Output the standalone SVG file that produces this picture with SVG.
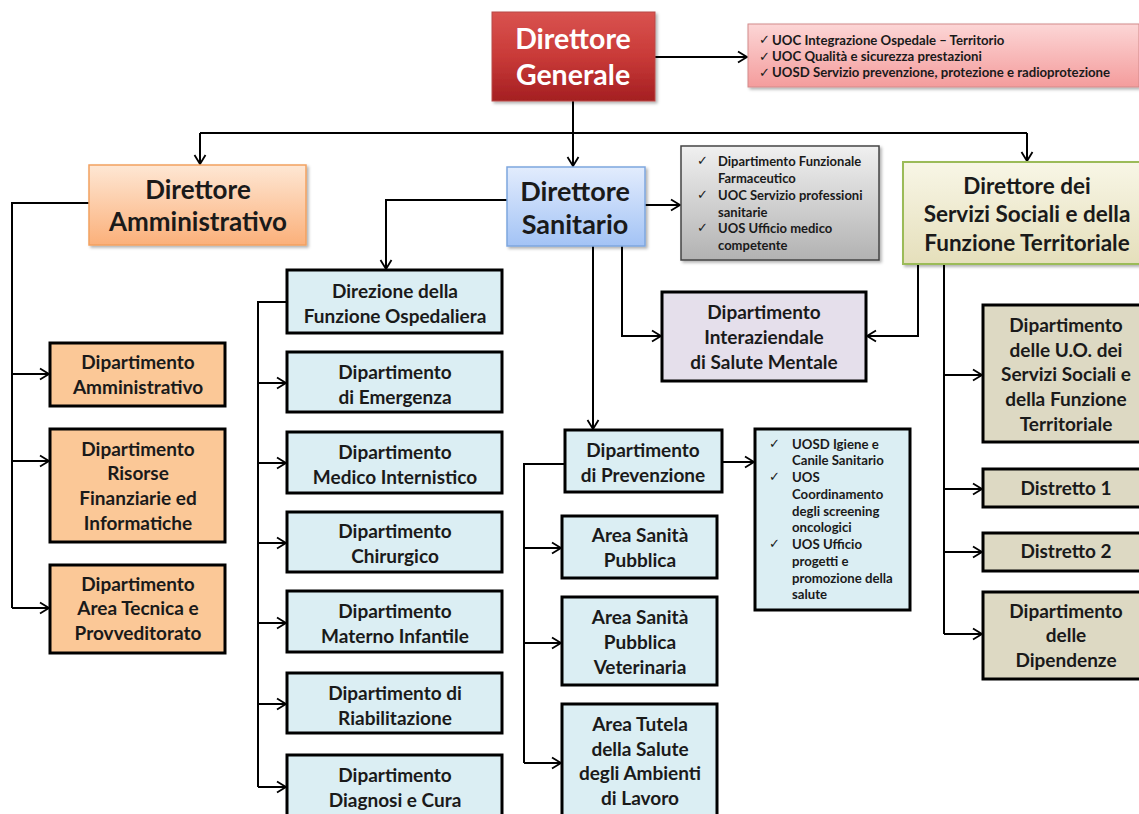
<svg xmlns="http://www.w3.org/2000/svg" width="1139" height="814" viewBox="0 0 1139 814">
<defs>
<linearGradient id="gRed" x1="0" y1="0" x2="0" y2="1"><stop offset="0" stop-color="#d9534f"/><stop offset="0.5" stop-color="#c93a38"/><stop offset="1" stop-color="#a41f22"/></linearGradient>
<linearGradient id="gPink" x1="0" y1="0" x2="0" y2="1"><stop offset="0" stop-color="#fcd6d6"/><stop offset="1" stop-color="#f49c9c"/></linearGradient>
<linearGradient id="gOrange" x1="0" y1="0" x2="0" y2="1"><stop offset="0" stop-color="#fee7d4"/><stop offset="1" stop-color="#fbb07a"/></linearGradient>
<linearGradient id="gBlue" x1="0" y1="0" x2="0" y2="1"><stop offset="0" stop-color="#e2ecfd"/><stop offset="1" stop-color="#a3c3f5"/></linearGradient>
<linearGradient id="gGray" x1="0" y1="0" x2="0" y2="1"><stop offset="0" stop-color="#f0f0f0"/><stop offset="1" stop-color="#b2b2b2"/></linearGradient>
<linearGradient id="gCream" x1="0" y1="0" x2="0" y2="1"><stop offset="0" stop-color="#f8f6e6"/><stop offset="1" stop-color="#e5dfbb"/></linearGradient>
<filter id="sh" x="-10%" y="-10%" width="130%" height="130%"><feDropShadow dx="2" dy="2" stdDeviation="1.5" flood-color="#000" flood-opacity="0.3"/></filter>
<marker id="ar" markerUnits="userSpaceOnUse" markerWidth="14" markerHeight="14" refX="11" refY="7" orient="auto"><path d="M2,1.5 L11,7 L2,12.5" fill="none" stroke="#000" stroke-width="1.8"/></marker>
</defs>
<style>
.ln{fill:none;stroke:#000;stroke-width:2}
.la{fill:none;stroke:#000;stroke-width:2;marker-end:url(#ar)}
.bx{stroke:#000;stroke-width:3}
.lb{fill:#dbeef3}
.or{fill:#fbc897}
.lav{fill:#e5dfeb}
.tan{fill:#ddd9c3}
text{font-family:Lato,"Open Sans","Liberation Sans",sans-serif;font-weight:bold;fill:#1a1a1a;text-anchor:middle}
.t17{font-size:19px}
.t12{font-size:13.2px;text-anchor:start}
.t11{font-size:13px;text-anchor:start}
.ck{font-family:"DejaVu Sans",sans-serif;font-weight:normal;font-size:13px;text-anchor:start}
</style>

<g id="connectors">
<path class="la" d="M655,57 H747"/>
<path class="ln" d="M573,101 V133 M200,133 H1027"/>
<path class="la" d="M200,133 V164"/>
<path class="la" d="M573,133 V166"/>
<path class="la" d="M1027,133 V161"/>
<path class="ln" d="M89,203 H12 V608"/>
<path class="la" d="M12,374 H49"/>
<path class="la" d="M12,461 H49"/>
<path class="la" d="M12,608 H49"/>
<path class="la" d="M507,200 H386 V269"/>
<path class="la" d="M645,205 H680"/>
<path class="la" d="M593,246 V429"/>
<path class="la" d="M622,246 V336 H661"/>
<path class="la" d="M918,264 V336 H867"/>
<path class="ln" d="M944,264 V634"/>
<path class="la" d="M944,375 H982"/>
<path class="la" d="M944,489 H982"/>
<path class="la" d="M944,552 H982"/>
<path class="la" d="M944,634 H982"/>
<path class="ln" d="M287,302 H258 V787"/>
<path class="la" d="M258,383 H286"/>
<path class="la" d="M258,463 H286"/>
<path class="la" d="M258,543 H286"/>
<path class="la" d="M258,623 H286"/>
<path class="la" d="M258,704 H286"/>
<path class="la" d="M258,787 H286"/>
<path class="ln" d="M565,464 H524 V763"/>
<path class="la" d="M524,548 H561"/>
<path class="la" d="M524,643 H561"/>
<path class="la" d="M524,763 H561"/>
<path class="la" d="M722,462 H754"/>
</g>

<g id="direttore-generale">
<rect x="492" y="12" width="163" height="89" fill="url(#gRed)" stroke="#b84a48" stroke-width="1" filter="url(#sh)"/>
<text x="573" y="49" style="font-size:28.5px;fill:#fff">Direttore</text>
<text x="573" y="85" style="font-size:28.5px;fill:#fff">Generale</text>
</g>

<g id="staff-generale">
<rect x="748" y="24" width="391" height="63" fill="url(#gPink)" stroke="#d28a8a" stroke-width="1" filter="url(#sh)"/>
<text class="ck" x="759" y="44">✓</text><text class="t12" x="772" y="45">UOC Integrazione Ospedale – Territorio</text>
<text class="ck" x="759" y="61">✓</text><text class="t12" x="772" y="61">UOC Qualità e sicurezza prestazioni</text>
<text class="ck" x="759" y="77">✓</text><text class="t12" x="772" y="77">UOSD Servizio prevenzione, protezione e radioprotezione</text>
</g>

<g id="direttore-amministrativo">
<rect x="89" y="165" width="217" height="80" fill="url(#gOrange)" stroke="#f2a160" stroke-width="1.5" filter="url(#sh)"/>
<text x="198" y="199" style="font-size:26px">Direttore</text>
<text x="198" y="231" style="font-size:26px">Amministrativo</text>
</g>

<g id="dip-amministrativo">
<rect class="bx or" x="50" y="343" width="175" height="63"/>
<text class="t17" x="138" y="369">Dipartimento</text>
<text class="t17" x="138" y="394">Amministrativo</text>
</g>
<g id="dip-risorse">
<rect class="bx or" x="50" y="429" width="175" height="113"/>
<text class="t17" x="138" y="456">Dipartimento</text>
<text class="t17" x="138" y="480">Risorse</text>
<text class="t17" x="138" y="505">Finanziarie ed</text>
<text class="t17" x="138" y="530">Informatiche</text>
</g>
<g id="dip-area-tecnica">
<rect class="bx or" x="50" y="565" width="175" height="88"/>
<text class="t17" x="138" y="591">Dipartimento</text>
<text class="t17" x="138" y="615">Area Tecnica e</text>
<text class="t17" x="138" y="640">Provveditorato</text>
</g>

<g id="direttore-sanitario">
<rect x="507" y="167" width="138" height="79" fill="url(#gBlue)" stroke="#7ea6de" stroke-width="1.5" filter="url(#sh)"/>
<text x="575" y="201" style="font-size:27px">Direttore</text>
<text x="575" y="234" style="font-size:27px">Sanitario</text>
</g>

<g id="staff-sanitario">
<rect x="681" y="146" width="198" height="114" fill="url(#gGray)" stroke="#444" stroke-width="1.5" filter="url(#sh)"/>
<text class="ck" x="697" y="165">✓</text><text class="t11" x="718" y="166">Dipartimento Funzionale</text>
<text class="t11" x="718" y="183">Farmaceutico</text>
<text class="ck" x="697" y="199">✓</text><text class="t11" x="718" y="200">UOC Servizio professioni</text>
<text class="t11" x="718" y="217">sanitarie</text>
<text class="ck" x="697" y="232">✓</text><text class="t11" x="718" y="233">UOS Ufficio medico</text>
<text class="t11" x="718" y="250">competente</text>
</g>

<g id="dip-salute-mentale">
<rect class="bx lav" x="662" y="292" width="204" height="89"/>
<text class="t17" x="764" y="319">Dipartimento</text>
<text class="t17" x="764" y="344">Interaziendale</text>
<text class="t17" x="764" y="369">di Salute Mentale</text>
</g>

<g id="direttore-servizi-sociali">
<rect x="903" y="162" width="240" height="102" fill="url(#gCream)" stroke="#9bbb59" stroke-width="2" filter="url(#sh)"/>
<text x="1027" y="194" style="font-size:22.5px">Direttore dei</text>
<text x="1027" y="222" style="font-size:22.5px">Servizi Sociali e della</text>
<text x="1027" y="251" style="font-size:22.5px">Funzione Territoriale</text>
</g>

<g id="dip-uo-servizi-sociali">
<rect class="bx tan" x="983" y="305" width="160" height="137"/>
<text class="t17" x="1066" y="332">Dipartimento</text>
<text class="t17" x="1066" y="357">delle U.O. dei</text>
<text class="t17" x="1066" y="381">Servizi Sociali e</text>
<text class="t17" x="1066" y="406">della Funzione</text>
<text class="t17" x="1066" y="431">Territoriale</text>
</g>
<g id="distretto-1">
<rect class="bx tan" x="983" y="469" width="160" height="38"/>
<text class="t17" x="1066" y="495">Distretto 1</text>
</g>
<g id="distretto-2">
<rect class="bx tan" x="983" y="533" width="160" height="38"/>
<text class="t17" x="1066" y="558">Distretto 2</text>
</g>
<g id="dip-dipendenze">
<rect class="bx tan" x="983" y="592" width="160" height="87"/>
<text class="t17" x="1066" y="618">Dipartimento</text>
<text class="t17" x="1066" y="642">delle</text>
<text class="t17" x="1066" y="667">Dipendenze</text>
</g>

<g id="direzione-ospedaliera">
<rect class="bx lb" x="287" y="270" width="215" height="63"/>
<text class="t17" x="395" y="298">Direzione della</text>
<text class="t17" x="395" y="323">Funzione Ospedaliera</text>
</g>
<g id="dip-emergenza">
<rect class="bx lb" x="287" y="352" width="215" height="60"/>
<text class="t17" x="395" y="379">Dipartimento</text>
<text class="t17" x="395" y="404">di Emergenza</text>
</g>
<g id="dip-medico-internistico">
<rect class="bx lb" x="287" y="432" width="215" height="61"/>
<text class="t17" x="395" y="459">Dipartimento</text>
<text class="t17" x="395" y="484">Medico Internistico</text>
</g>
<g id="dip-chirurgico">
<rect class="bx lb" x="287" y="512" width="215" height="60"/>
<text class="t17" x="395" y="538">Dipartimento</text>
<text class="t17" x="395" y="563">Chirurgico</text>
</g>
<g id="dip-materno-infantile">
<rect class="bx lb" x="287" y="591" width="215" height="61"/>
<text class="t17" x="395" y="618">Dipartimento</text>
<text class="t17" x="395" y="643">Materno Infantile</text>
</g>
<g id="dip-riabilitazione">
<rect class="bx lb" x="287" y="673" width="215" height="60"/>
<text class="t17" x="395" y="700">Dipartimento di</text>
<text class="t17" x="395" y="725">Riabilitazione</text>
</g>
<g id="dip-diagnosi-cura">
<rect class="bx lb" x="287" y="755" width="215" height="70"/>
<text class="t17" x="395" y="782">Dipartimento</text>
<text class="t17" x="395" y="807">Diagnosi e Cura</text>
</g>

<g id="dip-prevenzione">
<rect class="bx lb" x="565" y="430" width="157" height="62"/>
<text class="t17" x="643" y="457">Dipartimento</text>
<text class="t17" x="643" y="482">di Prevenzione</text>
</g>
<g id="uosd-prevenzione">
<rect class="bx lb" x="755" y="429" width="155" height="181"/>
<text class="ck" x="769" y="448">✓</text><text class="t12" x="792" y="449">UOSD Igiene e</text>
<text class="t12" x="792" y="465">Canile Sanitario</text>
<text class="ck" x="769" y="481">✓</text><text class="t12" x="792" y="482">UOS</text>
<text class="t12" x="792" y="499">Coordinamento</text>
<text class="t12" x="792" y="516">degli screening</text>
<text class="t12" x="792" y="532">oncologici</text>
<text class="ck" x="769" y="548">✓</text><text class="t12" x="792" y="549">UOS Ufficio</text>
<text class="t12" x="792" y="566">progetti e</text>
<text class="t12" x="792" y="583">promozione della</text>
<text class="t12" x="792" y="599">salute</text>
</g>
<g id="area-sanita-pubblica">
<rect class="bx lb" x="562" y="516" width="155" height="62"/>
<text class="t17" x="640" y="542">Area Sanità</text>
<text class="t17" x="640" y="567">Pubblica</text>
</g>
<g id="area-sanita-veterinaria">
<rect class="bx lb" x="562" y="597" width="155" height="88"/>
<text class="t17" x="640" y="624">Area Sanità</text>
<text class="t17" x="640" y="649">Pubblica</text>
<text class="t17" x="640" y="674">Veterinaria</text>
</g>
<g id="area-tutela-lavoro">
<rect class="bx lb" x="562" y="704" width="155" height="120"/>
<text class="t17" x="640" y="731">Area Tutela</text>
<text class="t17" x="640" y="756">della Salute</text>
<text class="t17" x="640" y="780">degli Ambienti</text>
<text class="t17" x="640" y="805">di Lavoro</text>
</g>
</svg>
